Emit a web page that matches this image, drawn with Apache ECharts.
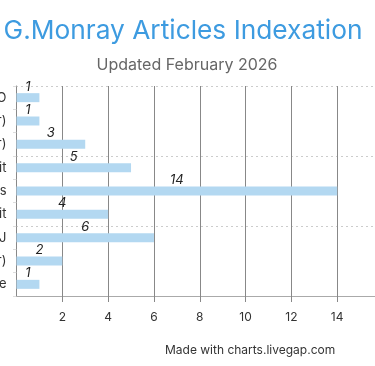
<!DOCTYPE html>
<html>
<head>
<meta charset="utf-8">
<script src="https://cdn.jsdelivr.net/npm/echarts@6/dist/echarts.min.js"></script>
<style>
html,body{margin:0;padding:0;background:#fff;}
#chart{width:375px;height:366px;}
</style>
</head>
<body>
<div id="chart"></div>
<script>
const titleText = "G.Monray Articles Indexation";
const subtitleText = "Updated February 2026";
const footerText = "Made with charts.livegap.com";
const categories = ["ZENODO", "Google Scholar (Author)", "Semantic Scholar (Author)", "Scilit", "Dimensions", "Reddit", "DOAJ", "ORCID (Researcher)", "ResearchGate"];
const values = [1, 1, 3, 5, 14, 4, 6, 2, 1];

const chart = echarts.init(document.getElementById('chart'), null, {renderer: 'canvas'});
const font = 'Inter, "Noto Sans", sans-serif';
chart.setOption({
  animation: false,
  textStyle: {fontFamily: font},
  title: [
    {text: titleText, left: 178, top: 13, textAlign: 'center',
     textStyle: {color: '#3d9be0', fontSize: 26.3, fontWeight: 'normal', fontFamily: font}},
    {text: subtitleText, left: 182, top: 52, textAlign: 'center',
     textStyle: {color: '#666', fontSize: 16, fontWeight: 'normal', fontFamily: font}},
    {text: footerText, left: 160, top: 339,
     textStyle: {color: '#333', fontSize: 12, fontWeight: 'normal', fontFamily: font}}
  ],
  grid: {left: 16.5, right: -8, top: 86, bottom: 70, containLabel: false, outerBoundsMode: 'none'},
  xAxis: {
    type: 'value', min: 0, max: 16, interval: 2,
    axisLine: {show: true, lineStyle: {color: '#aaa', width: 1}},
    axisTick: {show: true, length: 6, lineStyle: {color: '#888'}},
    axisLabel: {showMinLabel: false, color: '#333', fontSize: 12, margin: 15, fontFamily: font},
    splitLine: {show: true, lineStyle: {color: '#888', width: 1, type: 'solid'}}
  },
  yAxis: {
    type: 'category', data: categories, inverse: true,
    axisLine: {show: true, lineStyle: {color: '#888', width: 1}},
    axisTick: {show: true, length: 4, lineStyle: {color: '#bbb', type: 'dotted'}},
    axisLabel: {color: '#333', fontSize: 13, margin: 10, fontFamily: font},
    splitLine: {show: true, interval: 2, lineStyle: {color: '#999', type: [1, 4], width: 1}}
  },
  series: [{
    type: 'bar', data: values, barWidth: 9,
    itemStyle: {color: '#b3d8f1'},
    label: {show: true, position: 'top', distance: 0, color: '#222', fontSize: 13, fontStyle: 'italic', fontFamily: font}
  }]
});
</script>
</body>
</html>
